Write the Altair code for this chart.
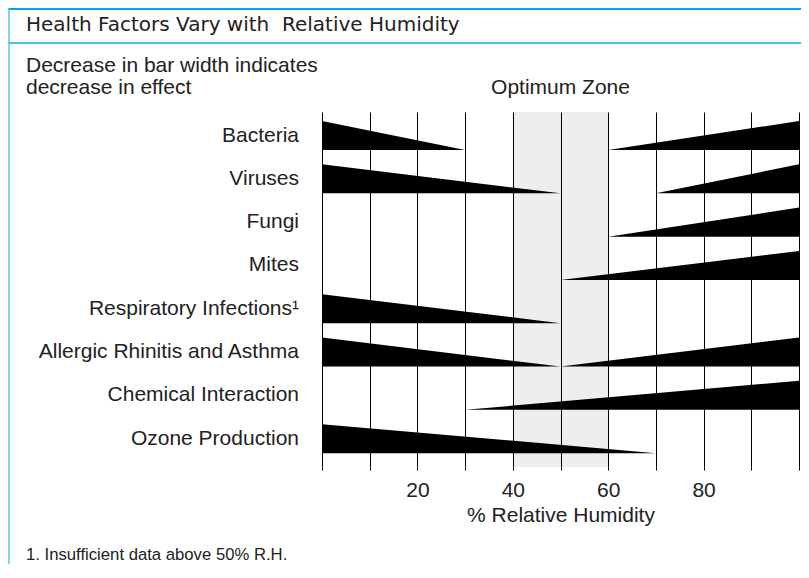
import altair as alt
import pandas as pd

# ---- data ----
factors = ["Bacteria", "Viruses", "Fungi", "Mites", "Respiratory Infections\u00b9",
           "Allergic Rhinitis and Asthma", "Chemical Interaction", "Ozone Production"]
# wedge that is widest at 0 % RH and tapers to zero at this humidity (None = no wedge)
low_end = [30, 50, None, None, 50, 50, None, 70]
# wedge that starts at zero at this humidity and is widest at 100 % RH
high_start = [60, 70, 60, 50, None, 50, 30, None]
rh_min, rh_max = 0, 100
optimum = [40, 60]
tick_values = [0, 10, 20, 30, 40, 50, 60, 70, 80, 90, 100]
tick_labels = [20, 40, 60, 80]

title_text = "Health Factors Vary with\u00a0 Relative Humidity"
subtitle_lines = ["Decrease in bar width indicates", "decrease in effect"]
x_title = "% Relative Humidity"
footnote = "1. Insufficient data above 50% R.H."

# ---- build tables ----
H = 0.67  # wedge thickness in row units
rows = []
for i, f in enumerate(factors):
    if low_end[i] is not None:
        rows.append({"w": f"{i}L", "x": rh_min, "y": i - H, "y2": i})
        rows.append({"w": f"{i}L", "x": low_end[i], "y": i, "y2": i})
    if high_start[i] is not None:
        rows.append({"w": f"{i}H", "x": high_start[i], "y": i, "y2": i})
        rows.append({"w": f"{i}H", "x": rh_max, "y": i - H, "y2": i})
wedges = pd.DataFrame(rows)
labels = pd.DataFrame({"name": factors, "y": [i - H / 2 for i in range(len(factors))]})
zone = pd.DataFrame({"x": [optimum[0]], "x2": [optimum[1]],
                     "mid": [(optimum[0] + optimum[1]) / 2], "t": ["Optimum Zone"]})

W, HT = 477, 355
PL, PT = 314, 104
FONT = "Liberation Sans"
TXT = "#222222"

xscale = alt.Scale(domain=[rh_min, rh_max], nice=False, zero=False)
yscale = alt.Scale(domain=[-0.878, 7.32], reverse=True, nice=False, zero=False)

label_expr = "indexof(" + str(tick_labels) + ", datum.value) >= 0 ? datum.label : ''"
xaxis = alt.Axis(values=tick_values, grid=True, gridColor="black", gridWidth=1, gridOpacity=1,
                 domain=False, ticks=True, tickColor="black", tickSize=3, tickWidth=1,
                 labelExpr=label_expr, labelFont=FONT, labelFontSize=21, labelColor=TXT,
                 labelPadding=9, title=x_title, titleFont=FONT, titleFontSize=21,
                 titleFontWeight="normal", titleColor=TXT, titlePadding=4, zindex=1)

shade = alt.Chart(zone).mark_rect(color="#eeeeee").encode(
    x=alt.X("x:Q", scale=xscale, axis=xaxis), x2="x2:Q",
    y=alt.value(0), y2=alt.value(HT))

area = alt.Chart(wedges).mark_area(color="black", orient="vertical", interpolate="linear",
                                   opacity=1).encode(
    x=alt.X("x:Q", scale=xscale),
    y=alt.Y("y:Q", scale=yscale, axis=None, stack=None),
    y2="y2:Q",
    detail="w:N")

names = alt.Chart(labels).mark_text(align="right", baseline="middle", font=FONT,
                                    fontSize=21, color=TXT).encode(
    x=alt.value(-23), y=alt.Y("y:Q", scale=yscale), text="name:N")

zone_txt = alt.Chart(zone).mark_text(align="center", baseline="middle", font=FONT,
                                     fontSize=21, color=TXT).encode(
    x=alt.X("mid:Q", scale=xscale), y=alt.value(80 - PT), text="t:N")

def txt(s, x, y, size, font=FONT, **kw):
    return alt.Chart(pd.DataFrame({"t": [s]})).mark_text(
        align="left", baseline="middle", font=font, fontSize=size, color=TXT, **kw).encode(
        x=alt.value(x), y=alt.value(y), text="t:N")

title = txt(title_text, 18 - PL, 17 - PT, 20, font="DejaVu Sans")
sub1 = txt(subtitle_lines[0], 18 - PL, 58 - PT, 21)
sub2 = txt(subtitle_lines[1], 18 - PL, 80 - PT, 21)
foot = txt(footnote, 18 - PL, 547 - PT, 16.7)

def rule(x, x2, y, y2, color, width):
    return alt.Chart(pd.DataFrame({"a": [0]})).mark_rule(color=color, strokeWidth=width).encode(
        x=alt.value(x), x2=alt.value(x2), y=alt.value(y), y2=alt.value(y2))

top_line = rule(-PL, W + 2, 1 - PT, 1 - PT, "#00a3e6", 2)
under_line = rule(-PL, W + 2, 35 - PT, 35 - PT, "#4dbdea", 2)
left_line = rule(1 - PL, 1 - PL, -PT, HT + 97, "#5cc3ef", 1.5)

chart = alt.layer(shade, area, names, zone_txt, title, sub1, sub2, foot,
                  top_line, under_line, left_line).properties(
    width=W, height=HT,
    autosize=alt.AutoSizeParams(type="none"),
    padding={"left": PL, "top": PT, "right": 2, "bottom": 97},
).configure_view(stroke=None)

chart.save("out.html", embed_options={"renderer": "svg", "actions": False})
